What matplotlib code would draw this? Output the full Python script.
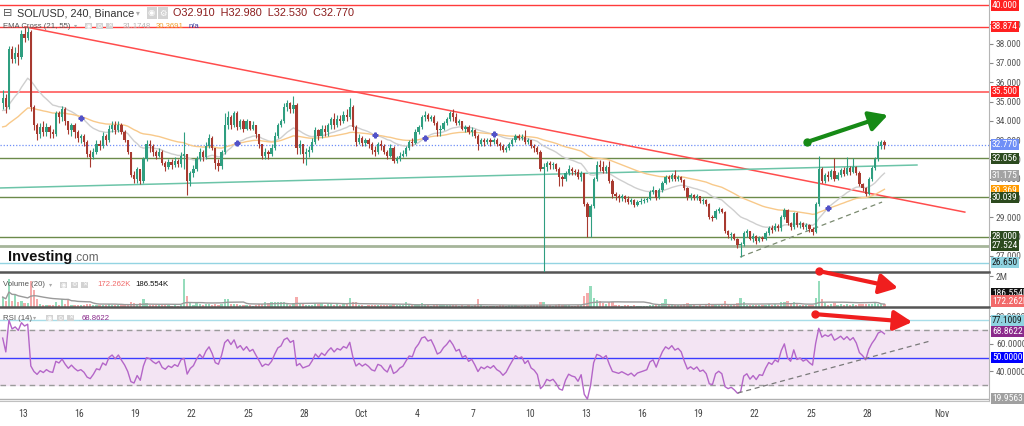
import matplotlib
matplotlib.use("Agg")
import matplotlib.pyplot as plt
import numpy as np
import pandas as pd
from matplotlib import font_manager
from matplotlib.transforms import blended_transform_factory

plt.rcParams['font.family'] = ['Liberation Sans', 'DejaVu Sans']
_names = {f.name for f in font_manager.fontManager.ttflist}
_narrow = [f for f in ['Liberation Sans Narrow', 'DejaVu Sans Condensed',
                       'Roboto Condensed', 'Open Sans Condensed'] if f in _names]
NARROW = (_narrow[:1] or ['Liberation Sans']) + ['DejaVu Sans']
BOX_FS = 6.8 if _narrow else 6.0

# SOL/USD 4h candles (Binance); day 0 = Sep 13
first_open = 34.9
closes = [
    35.2, 34.7, 37.7, 37.2, 37.5, 37.3, 38.5, 38.3, 38.6, 34.7,
    33.8, 33.3, 33.7, 33.4, 33.7, 33.4, 33.3, 34.4, 34.2, 34.6,
    34.0, 33.5, 33.8, 33.4, 33.1, 33.2, 32.9, 32.3, 32.1, 32.4,
    32.8, 32.7, 33.2, 33.0, 33.6, 33.8, 33.5, 33.8, 33.4, 33.0,
    32.4, 31.2, 31.0, 31.5, 30.9, 32.0, 32.8, 32.7, 32.4, 32.2,
    32.4, 31.8, 31.6, 31.85, 31.7, 31.9, 31.75, 32.2, 32.3, 30.9,
    31.3, 31.5, 32.0, 32.4, 32.1, 32.7, 33.1, 32.6, 31.8, 31.65,
    32.4, 33.8, 34.2, 33.8, 34.4, 33.7, 34.0, 33.6, 34.0, 33.6,
    33.8, 33.3, 32.8, 32.2, 32.4, 32.3, 32.6, 33.2, 33.8, 34.0,
    34.7, 34.9, 34.6, 34.8, 32.6, 32.8, 32.3, 32.4, 32.5, 32.9,
    33.5, 33.2, 33.6, 33.4, 33.8, 34.1, 33.8, 34.1, 34.0, 34.3,
    34.2, 34.7, 33.7, 32.9, 33.1, 32.85, 33.0, 32.8, 32.5, 32.4,
    32.8, 32.7, 32.4, 32.2, 32.6, 31.9, 32.0, 32.2, 32.3, 32.6,
    32.9, 32.85, 33.4, 33.7, 34.2, 34.3, 34.1, 34.2, 33.9, 33.5,
    33.6, 33.9, 34.1, 34.4, 34.2, 33.9, 34.0, 33.6, 33.7, 33.4,
    33.5, 33.2, 32.8, 33.0, 32.9, 33.0, 32.9, 33.0, 32.8, 32.7,
    32.5, 32.6, 32.8, 33.0, 33.2, 33.1, 33.15, 32.9, 33.0, 32.7,
    32.6, 32.4, 31.5, 31.6, 31.8, 31.7, 31.75, 31.5, 31.1, 31.0,
    31.3, 31.5, 31.4, 31.35, 31.1, 31.3, 29.7, 29.0, 29.6, 31.0,
    31.7, 31.6, 31.4, 31.6, 30.9, 30.2, 30.1, 30.0, 30.1, 29.95,
    29.8, 29.9, 29.65, 29.8, 29.85, 29.9, 29.95, 30.3, 30.4, 30.0,
    30.4, 30.8, 31.1, 31.0, 31.2, 31.0, 31.1, 30.95, 30.5, 30.05,
    30.15, 30.0, 30.1, 29.85, 29.9, 29.7, 29.0, 28.95, 29.35, 29.45,
    29.3, 28.3, 28.1, 28.15, 27.9, 27.55, 27.6, 28.2, 28.3, 27.9,
    28.05, 27.75, 27.95, 27.9, 28.2, 28.45, 28.35, 28.55, 28.45, 29.0,
    29.4, 28.7, 28.5, 29.2, 28.6, 28.7, 28.5, 28.6, 28.4, 28.25,
    29.7, 31.5, 30.9, 31.2, 31.1, 31.4, 31.0, 31.2, 31.45, 31.25,
    31.55, 31.35, 31.6, 31.3, 30.7, 30.5, 30.2, 31.0, 31.55, 32.0,
    32.7, 32.91, 32.77,
]
highs = [
    35.6, 35.4, 37.9, 37.9, 37.8, 38.0, 38.7, 38.87, 38.87, 38.7,
    34.8, 33.9, 33.9, 34.0, 33.9, 33.8, 33.6, 34.5, 34.5, 34.75,
    34.7, 34.0, 33.9, 33.9, 33.5, 33.3, 33.3, 33.0, 32.5, 32.6,
    33.0, 33.0, 33.4, 33.3, 33.8, 34.0, 34.0, 34.0, 33.9, 33.5,
    33.0, 32.4, 31.4, 31.6, 31.4, 32.1, 33.0, 33.0, 32.8, 32.5,
    32.6, 32.5, 31.9, 32.0, 32.0, 32.1, 32.0, 32.4, 33.4, 32.3,
    31.4, 31.7, 32.2, 32.6, 32.5, 32.9, 33.3, 33.2, 32.6, 32.0,
    32.5, 34.4, 34.5, 34.3, 34.5, 34.5, 34.1, 34.1, 34.1, 34.0,
    34.0, 33.8, 33.3, 32.8, 32.6, 32.5, 32.8, 33.4, 33.9, 34.1,
    34.9, 35.1, 35.0, 35.3, 34.9, 33.0, 32.8, 32.6, 32.7, 33.1,
    33.7, 33.6, 33.8, 33.8, 33.9, 34.2, 34.4, 34.3, 34.3, 34.5,
    34.6, 35.2, 34.8, 33.8, 33.3, 33.2, 33.1, 33.1, 32.9, 32.7,
    32.9, 33.0, 32.8, 32.5, 32.8, 32.7, 32.2, 32.4, 32.5, 32.7,
    33.0, 33.1, 33.6, 33.8, 34.3, 34.5, 34.4, 34.3, 34.3, 34.0,
    33.8, 34.0, 34.2, 34.5, 34.6, 34.4, 34.1, 34.0, 33.8, 33.8,
    33.7, 33.6, 33.3, 33.1, 33.1, 33.1, 33.1, 33.1, 33.1, 32.9,
    32.8, 32.7, 32.9, 33.1, 33.3, 33.3, 33.3, 33.5, 33.1, 33.0,
    32.8, 32.7, 32.5, 31.8, 31.9, 31.9, 31.85, 31.8, 31.6, 31.2,
    31.4, 31.7, 31.6, 31.5, 31.5, 31.4, 31.3, 29.8, 29.7, 31.1,
    31.9, 31.95, 31.9, 31.7, 31.9, 31.0, 30.3, 30.2, 30.2, 30.15,
    30.1, 30.0, 29.95, 29.9, 30.0, 30.0, 30.05, 30.4, 30.6, 30.4,
    30.5, 30.9, 31.2, 31.2, 31.3, 31.45, 31.2, 31.15, 31.0, 30.55,
    30.25, 30.2, 30.2, 30.1, 30.0, 29.95, 29.75, 29.1, 29.45, 29.55,
    29.5, 29.35, 28.35, 28.25, 28.2, 27.95, 27.7, 28.3, 28.4, 28.3,
    28.2, 28.1, 28.05, 28.05, 28.3, 28.55, 28.6, 28.7, 28.65, 29.1,
    29.5, 29.45, 28.75, 29.3, 29.25, 28.8, 28.75, 28.7, 28.65, 28.5,
    29.8, 32.2, 31.6, 31.3, 31.4, 31.5, 32.05, 31.35, 31.55, 31.6,
    32.1, 31.65, 32.05, 31.65, 31.4, 30.8, 30.55, 31.1, 31.65, 32.1,
    32.95, 32.98, 32.98,
]
lows = [
    34.6, 34.4, 34.6, 37.0, 37.0, 36.9, 37.2, 38.1, 38.2, 34.5,
    33.5, 33.0, 33.1, 33.2, 33.2, 33.1, 33.1, 33.2, 33.9, 34.0,
    33.8, 33.3, 33.2, 33.1, 32.9, 32.85, 32.7, 32.1, 31.6, 32.0,
    32.3, 32.5, 32.6, 32.75, 32.9, 33.4, 33.3, 33.4, 33.3, 32.9,
    32.3, 31.1, 30.8, 30.8, 30.75, 30.8, 31.9, 32.4, 32.2, 32.0,
    32.1, 31.7, 31.4, 31.5, 31.5, 31.6, 31.6, 31.6, 31.5, 30.15,
    30.6, 31.1, 31.4, 31.9, 31.9, 32.0, 32.6, 32.5, 31.5, 31.4,
    31.5, 32.3, 33.6, 33.6, 33.7, 33.5, 33.6, 33.4, 33.5, 33.5,
    33.5, 33.1, 32.6, 32.0, 32.0, 32.0, 32.2, 32.5, 33.1, 33.7,
    33.9, 34.5, 34.4, 34.4, 32.3, 32.3, 31.8, 31.7, 32.1, 32.4,
    32.8, 33.0, 33.1, 33.2, 33.2, 33.6, 33.6, 33.7, 33.8, 33.9,
    34.0, 34.1, 33.5, 32.7, 32.8, 32.7, 32.7, 32.6, 32.3, 32.2,
    32.3, 32.5, 32.3, 32.0, 32.1, 31.8, 31.8, 31.9, 32.1, 32.2,
    32.5, 32.7, 32.8, 33.3, 33.6, 34.0, 34.0, 34.0, 33.8, 33.2,
    33.2, 33.5, 33.8, 34.0, 34.0, 33.8, 33.8, 33.5, 33.4, 33.3,
    33.2, 33.1, 32.5, 32.7, 32.7, 32.8, 32.7, 32.8, 32.7, 32.5,
    32.4, 32.4, 32.5, 32.7, 32.9, 33.0, 33.0, 32.8, 32.8, 32.6,
    32.4, 32.3, 31.4, 25.5, 31.4, 31.5, 31.5, 31.4, 30.6, 30.6,
    30.9, 31.2, 31.2, 31.2, 31.0, 30.9, 29.6, 28.0, 28.0, 29.5,
    30.9, 31.4, 31.3, 31.3, 30.8, 30.0, 29.9, 29.8, 29.85, 29.8,
    29.7, 29.7, 29.55, 29.6, 29.7, 29.75, 29.8, 29.9, 30.2, 29.9,
    29.95, 30.3, 30.7, 30.85, 30.9, 30.9, 30.9, 30.85, 30.4, 29.9,
    29.9, 29.9, 29.9, 29.75, 29.7, 29.6, 28.9, 28.8, 28.9, 29.2,
    29.2, 28.2, 27.95, 27.85, 27.8, 27.4, 26.95, 27.5, 28.0, 27.8,
    27.7, 27.6, 27.7, 27.75, 27.85, 28.1, 28.2, 28.3, 28.3, 28.3,
    28.9, 28.6, 28.35, 28.4, 28.5, 28.45, 28.4, 28.35, 28.25, 28.1,
    28.2, 29.6, 30.8, 30.8, 30.9, 31.0, 30.9, 30.95, 31.1, 31.15,
    31.2, 31.2, 31.3, 31.2, 30.6, 30.35, 30.1, 30.15, 30.9, 31.45,
    31.9, 32.55, 32.53,
]
volumes_k = [
    650, 420, 1850, 380, 770, 300, 420, 280, 260, 1700,
    1100, 500, 200, 160, 140, 120, 130, 300, 160, 500,
    200, 450, 140, 150, 120, 100, 150, 220, 200, 150,
    130, 100, 150, 110, 170, 130, 110, 100, 110, 130,
    200, 300, 250, 200, 230, 550, 250, 140, 120, 110,
    100, 150, 140, 100, 90, 100, 90, 140, 1850, 700,
    250, 160, 300, 180, 150, 200, 170, 140, 200, 120,
    180, 550, 500, 170, 220, 190, 110, 120, 100, 100,
    90, 140, 180, 200, 300, 250, 300, 320, 330, 300,
    330, 200, 150, 250, 650, 170, 200, 150, 110, 150,
    250, 170, 230, 140, 250, 250, 150, 200, 140, 250,
    200, 600, 330, 300, 140, 110, 90, 100, 120, 100,
    150, 100, 140, 110, 120, 190, 130, 110, 100, 300,
    200, 140, 190, 200, 230, 150, 100, 90, 110, 170,
    110, 120, 130, 150, 120, 140, 90, 130, 90, 100,
    80, 120, 500, 150, 90, 80, 70, 80, 90, 110,
    120, 90, 100, 110, 120, 90, 80, 150, 90, 120,
    140, 160, 300, 350, 160, 110, 90, 120, 200, 130,
    110, 120, 90, 80, 100, 100, 700, 900, 1400, 600,
    450, 400, 250, 200, 300, 350, 140, 100, 90, 100,
    110, 80, 120, 80, 70, 80, 90, 150, 140, 120,
    120, 250, 500, 150, 170, 140, 110, 100, 200, 250,
    120, 100, 90, 120, 80, 140, 230, 150, 170, 130,
    110, 400, 200, 140, 150, 260, 600, 300, 150, 140,
    120, 150, 110, 100, 140, 200, 150, 180, 130, 350,
    350, 380, 200, 330, 260, 120, 130, 100, 110, 120,
    600, 1700, 500, 250, 150, 200, 250, 160, 180, 150,
    200, 160, 170, 140, 200, 170, 180, 180, 200, 270,
    200, 180, 172.262,
]

# indicator starting values read at the left edge
ema21_start = 34.47
ema55_start = 33.63
rsi_gain_start = 0.12
rsi_loss_start = 0.08

day_ticks = [0, 3, 6, 9, 12, 15, 18, 21, 24, 27, 30, 33, 36, 39, 42, 45, 49]
day_labels = ['13', '16', '19', '22', '25', '28', 'Oct', '4', '7', '10',
              '13', '16', '19', '22', '25', '28', 'Nov']

# horizontal levels: price, line colour, width, style
levels = [
    (40.0, '#ff3b3b', 1.0, '-'),
    (38.874, '#ff3b3b', 1.0, '-'),
    (35.5, '#ff5a5a', 1.2, '-'),
    (32.77, '#6f8ff7', 0.9, (0, (1, 1.5))),
    (32.056, '#6b8a4a', 1.0, '-'),
    (30.039, '#6b8a4a', 1.0, '-'),
    (28.0, '#6b8a4a', 1.0, '-'),
    (27.524, '#a6b59a', 2.0, '-'),
    (26.65, '#93d4e2', 1.0, '-'),
]
# price boxes on the right axis: price, text, box colour, text colour
price_boxes = [
    (40.0, '40.000', '#ff2020', 'white'),
    (38.874, '38.874', '#ff2020', 'white'),
    (35.5, '35.500', '#ff2020', 'white'),
    (32.77, '32.770', '#6f8ff7', 'white'),
    (32.056, '32.056', '#2c4a1e', 'white'),
    (31.175, '31.175', '#a3a3a3', 'white'),
    (30.369, '30.369', '#ff9a00', 'white'),
    (30.039, '30.039', '#2c4a1e', 'white'),
    (28.0, '28.000', '#2c4a1e', 'white'),
    (27.524, '27.524', '#2c4a1e', 'white'),
    (26.65, '26.650', '#8fd3e0', '#1a1a1a'),
]
rsi_boxes = [
    (77.1009, '77.1009', '#8fd3e0', '#1a1a1a'),
    (68.8622, '68.8622', '#8b2a8b', 'white'),
    (50.0, '50.0000', '#0000ff', 'white'),
    (19.9563, '19.9563', '#a0a0a0', 'white'),
]

# trend lines (day, value)
red_trend = [(0.1, 38.87), (50.2, 29.27)]
teal_trend = [(-1.226, 30.52), (47.65, 31.71)]
low_trend = [(38.22, 26.94), (45.79, 29.79)]
rsi_trend = [(38.1, 24.2), (48.35, 62.0)]
green_arrow = [(41.79, 32.90), (46.1, 34.3)]
vol_arrow = [(42.43, 2.34e6), (46.64, 1.24e6)]
rsi_arrow = [(42.2, 81.6), (47.4, 75.8)]

# ---- derived series ----
n = len(closes)
t = -13 / 12 + np.arange(n) / 6.0
c = np.array(closes)
o = np.concatenate([[first_open], c[:-1]])
h = np.array(highs)
l = np.array(lows)
up = c >= o
vol = np.array(volumes_k) * 1000
vol_ma = pd.Series(vol).rolling(20, min_periods=1).mean()

ema21, ema55 = [], []
e1, e2 = ema21_start, ema55_start
for price in c:
    e1 += 2 / 22 * (price - e1)
    e2 += 2 / 56 * (price - e2)
    ema21.append(e1)
    ema55.append(e2)
ema21 = np.array(ema21)
ema55 = np.array(ema55)
diff_sign = np.sign(ema21 - ema55)
cross = np.where(diff_sign[1:] != diff_sign[:-1])[0] + 1

rsi = []
ag, al = rsi_gain_start, rsi_loss_start
prev = first_open
for price in c:
    d = price - prev
    ag = (ag * 13 + max(d, 0)) / 14
    al = (al * 13 + max(-d, 0)) / 14
    rsi.append(100 - 100 / (1 + ag / al))
    prev = price
rsi = np.array(rsi)

# ---- figure ----
fig = plt.figure(figsize=(10.24, 4.26), dpi=100)
W, H = 1024, 426
x_right = 989 / W
ax = fig.add_axes([0, 1 - 272 / H, x_right, 272 / H])
axv = fig.add_axes([0, 1 - 307 / H, x_right, 33 / H], sharex=ax)
axr = fig.add_axes([0, 1 - 401 / H, x_right, 92 / H], sharex=ax)

up_col, dn_col = '#2f9e80', '#a83a30'
cols = np.where(up, up_col, dn_col)

for lv, colr, lw, ls in levels:
    ax.axhline(lv, color=colr, lw=lw, ls=ls, zorder=1)
ax.plot(*zip(*red_trend), color='#ff4d4d', lw=1.1, zorder=2)
ax.plot(*zip(*teal_trend), color='#6cc4a8', lw=1.1, zorder=2)
ax.plot(*zip(*low_trend), color='#7a8a70', lw=0.9, ls=(0, (4, 3)), zorder=2)
ax.plot(t, ema21, color='#cfcfcf', lw=1.0, zorder=2)
ax.plot(t, ema55, color='#f8c98a', lw=1.0, zorder=2)

ax.vlines(t, l, h, colors=cols, lw=0.8, zorder=3)
body_lo = np.minimum(o, c)
body_h = np.maximum(np.abs(c - o), 0.03)
ax.bar(t, body_h, bottom=body_lo, width=0.12, color=cols, lw=0, zorder=4)
ax.plot(t[cross], ema21[cross], ls='none', marker='P', ms=3.5,
        color='#5252c8', zorder=5)

arrow_style = '-|>,head_length=1.1,head_width=0.6'
ax.annotate('', xy=green_arrow[1], xytext=green_arrow[0],
            arrowprops=dict(arrowstyle=arrow_style, lw=3, color='#168a16',
                            shrinkA=0, shrinkB=0), zorder=6)
ax.plot(*green_arrow[0], marker='o', ms=5, color='#168a16', zorder=6)

ax.set_xlim(-1.226, 51.49)
ax.set_ylim(26.166, 40.26)

# volume
vcols = np.where(up, '#96dcbc', '#f5abab')
axv.bar(t, vol, width=0.12, color=vcols, lw=0)
axv.plot(t, vol_ma, color='#9a9a9a', lw=1.0)
axv.set_ylim(0, 2.15e6)
axv.annotate('', xy=vol_arrow[1], xytext=vol_arrow[0],
             arrowprops=dict(arrowstyle=arrow_style, lw=3, color='#f01e1e',
                             shrinkA=0, shrinkB=0),
             annotation_clip=False, zorder=6)
axv.plot(*vol_arrow[0], marker='o', ms=5, color='#f01e1e', clip_on=False, zorder=6)

# rsi
axr.axhspan(30, 70, color='#f3e4f3', zorder=0)
axr.axhline(70, color='#9a9a9a', lw=1, ls=(0, (4, 3)))
axr.axhline(30, color='#9a9a9a', lw=1, ls=(0, (4, 3)))
axr.axhline(50, color='#3c3cff', lw=1)
axr.axhline(77.1009, color='#a8dde8', lw=1)
axr.axhline(19.9563, color='#b0b0b0', lw=1)
axr.plot(t, rsi, color='#b466c8', lw=1.0)
axr.plot(*zip(*rsi_trend), color='#7a7a7a', lw=0.9, ls=(0, (4, 3)))
axr.annotate('', xy=rsi_arrow[1], xytext=rsi_arrow[0],
             arrowprops=dict(arrowstyle=arrow_style, lw=3, color='#f01e1e',
                             shrinkA=0, shrinkB=0),
             annotation_clip=False, zorder=6)
axr.plot(*rsi_arrow[0], marker='o', ms=5, color='#f01e1e', zorder=6)
axr.set_ylim(18.4, 85.3)

# axes cosmetics
for a in (ax, axv, axr):
    a.set_facecolor('white')
    a.spines['left'].set_visible(False)
    a.spines['top'].set_visible(False)
    a.spines['right'].set_color('#b5b5b5')
    a.yaxis.tick_right()
    a.tick_params(axis='y', which='both', length=3, width=0.8, color='#888',
                  labelsize=BOX_FS, labelcolor='#555', pad=2)
ax.spines['bottom'].set_color('#555')
ax.spines['bottom'].set_linewidth(1.8)
axv.spines['bottom'].set_color('#555')
axv.spines['bottom'].set_linewidth(1.8)
axr.spines['bottom'].set_color('#c0c0c0')
for a in (ax, axv):
    a.tick_params(axis='x', bottom=False, labelbottom=False)

ax.set_yticks(np.arange(27, 40))
ax.set_yticklabels([f'{v:.3f}' for v in np.arange(27, 40)])
axv.set_yticks([2e6])
axv.set_yticklabels(['2M'])
axr.set_yticks([40, 60, 80])
axr.set_yticklabels(['40.0000', '60.0000', '80.0000'])

axr.set_xticks(day_ticks)
axr.set_xticklabels(day_labels)
axr.tick_params(axis='x', length=0, labelsize=7, labelcolor='#444', pad=6)
for a in (ax, axv, axr):
    for lbl in a.get_yticklabels() + a.get_xticklabels():
        lbl.set_family(NARROW)

box_kw = dict(boxstyle='square,pad=0.12', ec='none')
tr = blended_transform_factory(ax.transAxes, ax.transData)
for p, txt, fc, tc in price_boxes:
    ax.text(1.003, p, txt, transform=tr, ha='left', va='center', fontsize=BOX_FS,
            family=NARROW, color=tc, bbox=dict(fc=fc, **box_kw),
            clip_on=False, zorder=10)
trr = blended_transform_factory(axr.transAxes, axr.transData)
for p, txt, fc, tc in rsi_boxes:
    axr.text(1.003, p, txt, transform=trr, ha='left', va='center', fontsize=BOX_FS,
             family=NARROW, color=tc, bbox=dict(fc=fc, **box_kw),
             clip_on=False, zorder=10)
axv.text(1.003, 0.42, '186.554K', transform=axv.transAxes, ha='left',
         va='center', fontsize=BOX_FS, family=NARROW, color='white',
         bbox=dict(fc='#111111', **box_kw))
axv.text(1.003, 0.18, '172.262K', transform=axv.transAxes, ha='left',
         va='center', fontsize=BOX_FS, family=NARROW, color='white',
         bbox=dict(fc='#f26a6a', **box_kw))


# header texts (pixel positions)
def ftext(px, py, s, **kw):
    fig.text(px / W, 1 - py / H, s, va='center', ha='left', **kw)


def icons(px, py, size):
    for k, g in enumerate(['◉', '⚙', '✕']):
        ftext(px + k * 10.5, py, g, fontsize=size, color='white',
              family=['DejaVu Sans'],
              bbox=dict(boxstyle='square,pad=0.15', fc='#d3d3d3', ec='none'))


ftext(3, 13, '⊟', fontsize=8, color='#555', family=['DejaVu Sans'])
ftext(17, 13, 'SOL/USD, 240, Binance', fontsize=7.8, color='#333')
ftext(136, 13, '▾', fontsize=5.5, color='#aaa', family=['DejaVu Sans'])
ftext(148, 13, '◉', fontsize=6, color='white', family=['DejaVu Sans'],
      bbox=dict(boxstyle='square,pad=0.15', fc='#d3d3d3', ec='none'))
ftext(159, 13, '⚙', fontsize=6, color='white', family=['DejaVu Sans'],
      bbox=dict(boxstyle='square,pad=0.15', fc='#d3d3d3', ec='none'))
ftext(173, 13, 'O32.910  H32.980  L32.530  C32.770', fontsize=7.8, color='#8b1c1c')

ftext(3, 26, 'EMA Cross (21, 55)', fontsize=5.6, color='#555')
ftext(74, 26, '▾', fontsize=4.5, color='#aaa', family=['DejaVu Sans'])
icons(86, 26, 4.5)
ftext(123, 26, '31.1748', fontsize=5.6, color='#b5b5b5')
ftext(156, 26, '30.3691', fontsize=5.6, color='#f0a030')
ftext(189, 26, 'n/a', fontsize=5.6, color='#33339a')

ftext(3, 285, 'Volume (20)', fontsize=5.6, color='#555')
ftext(49, 285, '▾', fontsize=4.5, color='#aaa', family=['DejaVu Sans'])
icons(61, 285, 4.5)
ftext(97, 285, '172.262K', fontsize=5.6, color='#f06a6a')
ftext(135, 285, '186.554K', fontsize=5.6, color='#111')

ftext(3, 318, 'RSI (14)', fontsize=5.6, color='#555')
ftext(33, 318, '▾', fontsize=4.5, color='#aaa', family=['DejaVu Sans'])
icons(47, 318, 4.5)
ftext(82, 318, '68.8622', fontsize=5.6, color='#8b2a8b')

ftext(8, 257, 'Investing', fontsize=10.5, color='#111', weight='bold')
ftext(74, 258, '.com', fontsize=8.5, color='#666')

fig.savefig('out.png', dpi=100, facecolor='white')
